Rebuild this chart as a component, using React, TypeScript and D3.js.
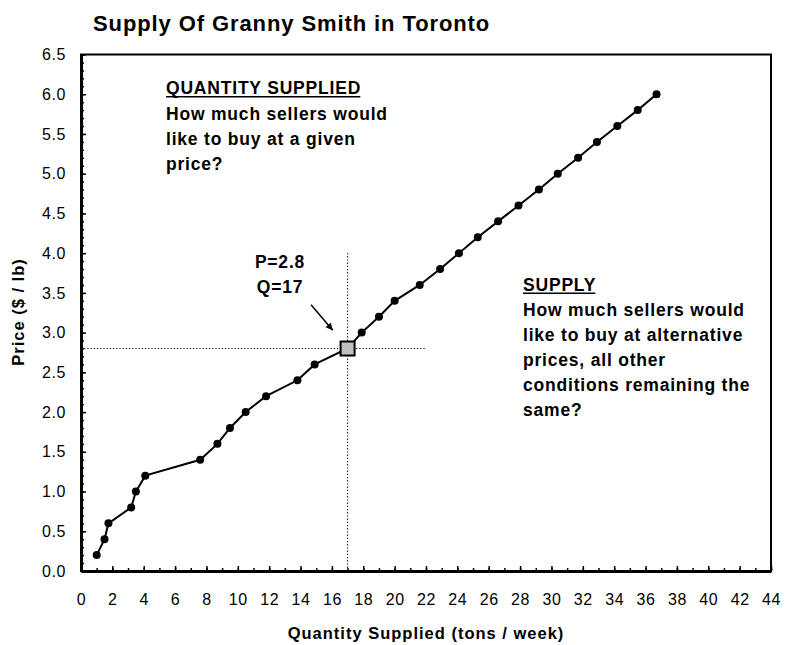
import React, { useEffect, useRef } from 'react';
import * as d3 from 'd3';

// supply schedule
const quantity = [1, 1.5, 1.75, 3.2, 3.5, 4.1, 7.6, 8.7, 9.5, 10.5, 11.8, 13.8, 14.9, 17, 17.9, 19, 20, 21.6, 22.9, 24.1, 25.3, 26.6, 27.9, 29.2, 30.4, 31.7, 32.9, 34.2, 35.5, 36.7];
const price = [0.2, 0.4, 0.6, 0.8, 1.0, 1.2, 1.4, 1.6, 1.8, 2.0, 2.2, 2.4, 2.6, 2.8, 3.0, 3.2, 3.4, 3.6, 3.8, 4.0, 4.2, 4.4, 4.6, 4.8, 5.0, 5.2, 5.4, 5.6, 5.8, 6.0];

const xTicks = [0, 2, 4, 6, 8, 10, 12, 14, 16, 18, 20, 22, 24, 26, 28, 30, 32, 34, 36, 38, 40, 42, 44];
const yTicks = [0, 0.5, 1, 1.5, 2, 2.5, 3, 3.5, 4, 4.5, 5, 5.5, 6, 6.5];

const eqQuantity = 17;
const eqPrice = 2.8;
const guideQuantityEnd = 22;
const guidePriceEnd = 4;

const leftNote = ['How much sellers would', 'like to buy at a given', 'price?'];
const rightNote = ['How much sellers would', 'like to buy at alternative', 'prices, all other', 'conditions remaining the', 'same?'];

const FONT = "'Liberation Sans', Arial, Helvetica, sans-serif";
const W = 785;
const H = 645;

const App = () => {
  const svgRef = useRef<SVGSVGElement>(null);

  useEffect(() => {
    const svg = d3.select(svgRef.current);
    svg.selectAll('*').remove();

    const x = d3.scaleLinear().domain([0, 44]).range([81, 771]);
    const y = d3.scaleLinear().domain([0, 6.5]).range([571, 54.5]);

    // frame
    svg.append('rect')
      .attr('x', x(0)).attr('y', y(6.5))
      .attr('width', x(44) - x(0)).attr('height', y(0) - y(6.5))
      .attr('fill', 'none').attr('stroke', '#000').attr('stroke-width', 2);

    // x axis: minor ticks every 1, labelled ticks every 2
    const xMinor = svg.append('g').attr('transform', `translate(0,${y(0)})`)
      .call(d3.axisBottom(x).tickValues(d3.range(0, 45)).tickSize(-3).tickSizeOuter(0).tickFormat(() => ''));
    xMinor.select('.domain').remove();
    const xAxis = svg.append('g').attr('transform', `translate(0,${y(0)})`)
      .call(d3.axisBottom(x).tickValues(xTicks).tickSize(-5).tickSizeOuter(0).tickPadding(23).tickFormat(d3.format('d')));
    xAxis.select('.domain').attr('stroke-width', 3);

    // y axis: minor ticks every 0.1
    const yMinor = svg.append('g').attr('transform', `translate(${x(0)},0)`)
      .call(d3.axisLeft(y).tickValues(d3.range(0, 66).map((i) => i / 10)).tickSize(-3).tickSizeOuter(0).tickFormat(() => ''));
    yMinor.select('.domain').remove();
    const yAxis = svg.append('g').attr('transform', `translate(${x(0)},0)`)
      .call(d3.axisLeft(y).tickValues(yTicks).tickSize(-5).tickSizeOuter(0).tickPadding(15).tickFormat(d3.format('.1f')));
    yAxis.select('.domain').attr('stroke-width', 3);

    svg.selectAll('.tick line').attr('stroke', '#000').attr('stroke-width', 1.5);
    svg.selectAll('.tick text')
      .attr('font-family', FONT).attr('font-size', 16).attr('letter-spacing', 0.6).attr('fill', '#000');

    // guide lines through the marked point
    svg.append('line')
      .attr('x1', x(0)).attr('x2', x(guideQuantityEnd))
      .attr('y1', y(eqPrice)).attr('y2', y(eqPrice))
      .attr('stroke', '#000').attr('stroke-width', 1.2).attr('stroke-dasharray', '1.2,2');
    svg.append('line')
      .attr('x1', x(eqQuantity)).attr('x2', x(eqQuantity))
      .attr('y1', y(0)).attr('y2', y(guidePriceEnd))
      .attr('stroke', '#000').attr('stroke-width', 1.2).attr('stroke-dasharray', '1.2,2');

    const points = quantity.map((q, i) => ({ q, p: price[i] }));

    const line = d3.line<{ q: number; p: number }>().x((d) => x(d.q)).y((d) => y(d.p));
    svg.append('path')
      .datum(points)
      .attr('d', line)
      .attr('fill', 'none').attr('stroke', '#000').attr('stroke-width', 2);

    const isEq = (d: { q: number; p: number }) => d.q === eqQuantity && d.p === eqPrice;

    svg.selectAll('circle.pt')
      .data(points.filter((d) => !isEq(d)))
      .join('circle')
      .attr('class', 'pt')
      .attr('cx', (d) => x(d.q)).attr('cy', (d) => y(d.p))
      .attr('r', 4).attr('fill', '#000');

    svg.selectAll('rect.eq')
      .data(points.filter(isEq))
      .join('rect')
      .attr('class', 'eq')
      .attr('x', (d) => x(d.q) - 7).attr('y', (d) => y(d.p) - 7)
      .attr('width', 14).attr('height', 14)
      .attr('fill', '#c0c0c0').attr('stroke', '#000').attr('stroke-width', 2);

    // arrow pointing at the marked point
    const ax1 = x(14.67), ay1 = y(3.35), ax2 = x(16.05), ay2 = y(3.03);
    svg.append('line')
      .attr('x1', ax1).attr('y1', ay1).attr('x2', ax2).attr('y2', ay2)
      .attr('stroke', '#000').attr('stroke-width', 1.5);
    const ang = Math.atan2(ay2 - ay1, ax2 - ax1);
    const hl = 7, hw = 3.5;
    const bx = ax2 - hl * Math.cos(ang), by = ay2 - hl * Math.sin(ang);
    svg.append('path')
      .attr('d', `M${ax2},${ay2}L${bx + hw * Math.sin(ang)},${by - hw * Math.cos(ang)}L${bx - hw * Math.sin(ang)},${by + hw * Math.cos(ang)}Z`)
      .attr('fill', '#000');

    const txt = (tx: number, ty: number, s: string, size: number, ls: number, anchor = 'start') =>
      svg.append('text')
        .attr('x', tx).attr('y', ty)
        .attr('font-family', FONT).attr('font-weight', 'bold')
        .attr('font-size', size).attr('letter-spacing', ls)
        .attr('text-anchor', anchor).attr('fill', '#000')
        .text(s);

    txt(93, 31, 'Supply Of Granny Smith in Toronto', 22, 0.9);

    txt(280, 268, 'P=2.8', 17.5, 0.8, 'middle');
    txt(280, 293, 'Q=17', 17.5, 0.8, 'middle');

    const heading = (tx: number, ty: number, s: string) => {
      const t = txt(tx, ty, s, 17.5, 0.8);
      const w = (t.node() as SVGTextElement).getComputedTextLength();
      svg.append('line')
        .attr('x1', tx).attr('x2', tx + w - 0.8)
        .attr('y1', ty + 2.5).attr('y2', ty + 2.5)
        .attr('stroke', '#000').attr('stroke-width', 1.6);
    };

    heading(166, 94.3, 'QUANTITY SUPPLIED');
    leftNote.forEach((s, i) => txt(166, 119.6 + i * 25.3, s, 17.5, 0.8));

    heading(523, 290.7, 'SUPPLY');
    rightNote.forEach((s, i) => txt(523, 315.7 + i * 25, s, 17.5, 0.8));

    // axis titles
    txt(426, 639, 'Quantity Supplied (tons / week)', 16.5, 1, 'middle');
    svg.append('text')
      .attr('transform', `translate(24,312) rotate(-90)`)
      .attr('font-family', FONT).attr('font-weight', 'bold')
      .attr('font-size', 16.5).attr('letter-spacing', 1)
      .attr('text-anchor', 'middle').attr('fill', '#000')
      .text('Price ($ / lb)');
  }, []);

  return (
    <div style={{ position: 'absolute', left: 0, top: 0, background: '#fff' }}>
      <svg ref={svgRef} width={W} height={H}></svg>
    </div>
  );
};

export default App;
